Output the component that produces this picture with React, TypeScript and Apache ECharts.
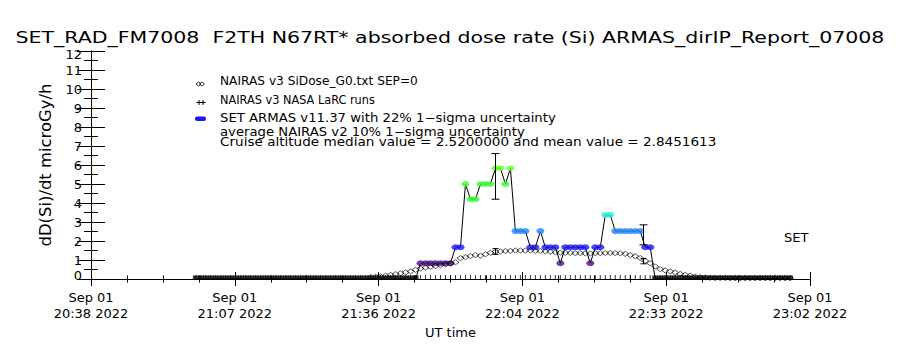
import React, { useEffect, useRef } from "react";
import * as echarts from "echarts";

// ---- tick labels ----
const xTickDate = "Sep 01";
const xTickLabels = ["20:38 2022", "21:07 2022", "21:36 2022", "22:04 2022", "22:33 2022", "23:02 2022"];
const xStepMin = 28.8; // minutes between labelled ticks (x axis = minutes after 20:38 UT)
const xMaxMin = 144;
const yMin = 0;
const yMax = 12;

const titleText = "SET_RAD_FM7008  F2TH N67RT* absorbed dose rate (Si) ARMAS_dirIP_Report_07008";
const yAxisTitle = "dD(Si)/dt microGy/h";
const xAxisTitle = "UT time";
const legendTexts = [
  "NAIRAS v3 SiDose_G0.txt SEP=0",
  "NAIRAS v3 NASA LaRC runs",
  "SET ARMAS v11.37 with 22% 1\u2212sigma uncertainty",
  "average NAIRAS v2 10% 1\u2212sigma uncertainty",
  "Cruise altitude median value = 2.5200000 and mean value = 2.8451613",
];

// ---- ARMAS measurements (minutes after 20:38, microGy/h) ----
const armasTimes = [
  21, 22, 23, 24, 25, 26, 27, 28, 29, 30, 31, 32, 33, 34, 35, 36, 37, 38, 39, 40,
  41, 42, 43, 44, 45, 46, 47, 48, 49, 50, 51, 52, 53, 54, 55, 56, 57, 58, 59, 60,
  61, 62, 63, 64, 65, 66, 67, 68, 69, 70, 71, 72, 73, 74, 75, 76, 77, 78, 79, 80,
  81, 82, 83, 84, 85, 86, 87, 88, 89, 90, 91, 92, 93, 94, 95, 96, 97, 98, 99, 100,
  101, 102, 103, 104, 105, 106, 107, 108, 109, 110, 111, 112, 113, 114, 115, 116, 117, 118, 119, 120,
  121, 122, 123, 124, 125, 126, 127, 128, 129, 130, 131, 132, 133, 134, 135, 136, 137, 138, 139, 140,
];
const armasValues = [
  0, 0, 0, 0, 0, 0, 0, 0, 0, 0, 0, 0, 0, 0, 0, 0, 0, 0, 0, 0,
  0, 0, 0, 0, 0, 0, 0, 0, 0, 0, 0, 0, 0, 0, 0, 0, 0, 0, 0, 0,
  0, 0, 0, 0, 0, 0.83, 0.83, 0.83, 0.83, 0.83, 0.83, 0.83, 1.67, 1.67, 5.0, 4.2, 4.2, 5.0, 5.0, 5.0,
  5.83, 5.83, 5.0, 5.83, 2.52, 2.52, 2.52, 1.67, 1.67, 2.52, 1.67, 1.67, 1.67, 0.83, 1.67, 1.67, 1.67, 1.67, 1.67, 0.83,
  1.67, 1.67, 3.37, 3.37, 2.52, 2.52, 2.52, 2.52, 2.52, 2.52, 1.67, 1.67, 0, 0, 0, 0, 0, 0, 0, 0,
  0, 0, 0, 0, 0, 0, 0, 0, 0, 0, 0, 0, 0, 0, 0, 0, 0, 0, 0, 0,
];

// ---- NAIRAS v3 NASA LaRC runs (at ARMAS times, plotted at 0) ----
const larcValues = [
  0, 0, 0, 0, 0, 0, 0, 0, 0, 0, 0, 0, 0, 0, 0, 0, 0, 0, 0, 0,
  0, 0, 0, 0, 0, 0, 0, 0, 0, 0, 0, 0, 0, 0, 0, 0, 0, 0, 0, 0,
  0, 0, 0, 0, 0, 0, 0, 0, 0, 0, 0, 0, 0, 0, 0, 0, 0, 0, 0, 0,
  0, 0, 0, 0, 0, 0, 0, 0, 0, 0, 0, 0, 0, 0, 0, 0, 0, 0, 0, 0,
  0, 0, 0, 0, 0, 0, 0, 0, 0, 0, 0, 0, 0, 0, 0, 0, 0, 0, 0, 0,
  0, 0, 0, 0, 0, 0, 0, 0, 0, 0, 0, 0, 0, 0, 0, 0, 0, 0, 0, 0,
];

// ---- NAIRAS v3 SiDose model ----
const nairasTimes = [
  56, 57, 58, 59, 60, 61, 62, 63, 64, 65, 66, 67, 68, 69, 70, 71, 72, 73, 74, 75,
  76, 77, 78, 79, 80, 81, 82, 83, 84, 85, 86, 87, 88, 89, 90, 91, 92, 93, 94, 95,
  96, 97, 98, 99, 100, 101, 102, 103, 104, 105, 106, 107, 108, 109, 110, 111, 112, 113, 114, 115,
  116, 117, 118, 119, 120, 121, 122, 123, 124, 125, 126, 127, 128, 129, 130, 131, 132, 133, 134, 135,
  136, 137, 138, 139, 140,
];
const nairasValues = [
  0.1, 0.12, 0.14, 0.18, 0.22, 0.26, 0.3, 0.35, 0.4, 0.48, 0.55, 0.6, 0.64, 0.68, 0.72, 0.77, 0.82, 0.88, 1.1, 1.15,
  1.2, 1.26, 1.22, 1.3, 1.38, 1.44, 1.45, 1.47, 1.48, 1.5, 1.5, 1.5, 1.5, 1.48, 1.47, 1.45, 1.43, 1.41, 1.39, 1.38,
  1.37, 1.36, 1.36, 1.35, 1.35, 1.36, 1.36, 1.37, 1.37, 1.36, 1.35, 1.32, 1.26, 1.2, 1.1, 0.95, 0.83, 0.66, 0.52, 0.45,
  0.4, 0.34, 0.27, 0.22, 0.18, 0.13, 0.1, 0.08, 0.06, 0.05, 0.05, 0.05, 0.04, 0.04, 0.04, 0.04, 0.04, 0.04, 0.04, 0.04,
  0.04, 0.04, 0.04, 0.04, 0.04,
];

// ---- error bars ----
const armasErrTimes = [81, 110.5];
const armasErrLow = [4.2, 1.8];
const armasErrHigh = [6.6, 2.85];
const nairasErrTimes = [81, 110.5];
const nairasErrLow = [1.3, 0.8];
const nairasErrHigh = [1.6, 1.08];

const FONT = "DejaVu Sans";

function measure(text: string, size: number): number {
  const c = document.createElement("canvas").getContext("2d");
  if (!c) return text.length * size * 0.6;
  c.font = `${size}px "${FONT}"`;
  return c.measureText(text).width;
}

function armasColor(v: number): string {
  if (v < 0.1) return "#000000";
  if (v < 1.2) return "#4b0f85";
  if (v < 2.0) return "#1818f0";
  if (v < 3.0) return "#1e88f4";
  if (v < 4.0) return "#28ecd8";
  if (v < 5.5) return "#3cf83c";
  return "#66ff33";
}

function errSeries(times: number[], lows: number[], highs: number[], cap: number) {
  return {
    type: "custom",
    silent: true,
    z: 6,
    clip: false,
    data: times.map((t, i) => [t, lows[i], highs[i]]),
    encode: { x: 0, y: [1, 2] },
    renderItem: (_p: any, api: any) => {
      const lo = api.coord([api.value(0), api.value(1)]);
      const hi = api.coord([api.value(0), api.value(2)]);
      const x = Math.round(lo[0]) + 0.5;
      const st = { stroke: "#000", lineWidth: 1 };
      return {
        type: "group",
        children: [
          { type: "line", shape: { x1: x, y1: lo[1], x2: x, y2: hi[1] }, style: st },
          { type: "line", shape: { x1: x - cap, y1: lo[1], x2: x + cap, y2: lo[1] }, style: st },
          { type: "line", shape: { x1: x - cap, y1: hi[1], x2: x + cap, y2: hi[1] }, style: st },
        ],
      };
    },
  };
}

export default function App() {
  const ref = useRef<HTMLDivElement>(null);
  useEffect(() => {
    if (!ref.current) return;
    const chart = echarts.init(ref.current, undefined, { renderer: "svg" });

    const xFmt = (v: number) => {
      const i = Math.round(v / xStepMin);
      return xTickLabels[i] !== undefined ? xTickDate + "\n" + xTickLabels[i] : "";
    };
    // end labels (min / max) are drawn nudged inward, as in the original plot
    const yFmt = (v: number) => (v === yMax || v === yMin ? "" : String(v));

    const axisLine = { show: true, lineStyle: { color: "#000", width: 1 } };

    // text fitting to reference widths
    const titleSize = 16;
    const titleScale = 870 / measure(titleText, titleSize);
    const legendSize = 12;
    const legendWidths = [198, 155, 336, 305, 497];
    const legendX = 220;
    const legendYs = [81, 99.5, 118, 131.5, 141.5];
    const yNameSize = Math.min(17, 14 * 163 / measure(yAxisTitle, 14));
    const yLabelSize = 13;
    const yLabelMargin = 9;

    const option: any = {
      animation: false,
      backgroundColor: "#ffffff",
      textStyle: { fontFamily: FONT },
      grid: { left: 91, right: 90, top: 51, bottom: 71, outerBoundsMode: "none", containLabel: false },
      xAxis: [
        {
          type: "value",
          position: "bottom",
          min: 0,
          max: xMaxMin,
          interval: xStepMin,
          axisLine,
          axisTick: { show: true, inside: true, length: 7, lineStyle: { color: "#000" } },
          minorTick: { show: true, splitNumber: 4, length: 3.5, lineStyle: { color: "#000" } },
          splitLine: { show: false },
          axisLabel: {
            formatter: xFmt,
            color: "#000",
            fontFamily: FONT,
            fontSize: 13,
            lineHeight: 16,
            margin: 10,
            showMinLabel: true,
            showMaxLabel: true,
            hideOverlap: false,
          },
          name: xAxisTitle,
          nameLocation: "middle",
          nameGap: 47,
          nameTextStyle: { color: "#000", fontFamily: FONT, fontSize: 13 },
        },
        {
          type: "value",
          position: "top",
          min: 0,
          max: xMaxMin,
          interval: xStepMin,
          axisLine,
          axisTick: { show: true, inside: true, length: 7, lineStyle: { color: "#000" } },
          minorTick: { show: true, splitNumber: 4, length: 3.5, lineStyle: { color: "#000" } },
          splitLine: { show: false },
          axisLabel: { show: false },
        },
      ],
      yAxis: [
        {
          type: "value",
          position: "left",
          min: yMin,
          max: yMax,
          interval: 1,
          axisLine,
          axisTick: { show: true, inside: true, length: 14, lineStyle: { color: "#000" } },
          minorTick: { show: true, splitNumber: 2, length: 7, lineStyle: { color: "#000" } },
          splitLine: { show: false },
          axisLabel: {
            formatter: yFmt,
            color: "#000",
            fontFamily: FONT,
            fontSize: yLabelSize,
            margin: yLabelMargin,
            showMinLabel: true,
            showMaxLabel: true,
            hideOverlap: false,
          },
          name: yAxisTitle,
          nameLocation: "middle",
          nameGap: 38,
          nameRotate: 90,
          nameTextStyle: { color: "#000", fontFamily: FONT, fontSize: yNameSize },
        },
        {
          type: "value",
          position: "right",
          min: yMin,
          max: yMax,
          interval: 1,
          axisLine,
          axisTick: { show: true, inside: true, length: 14, lineStyle: { color: "#000" } },
          minorTick: { show: true, splitNumber: 2, length: 7, lineStyle: { color: "#000" } },
          splitLine: { show: false },
          axisLabel: { show: false },
        },
      ],
      series: [
        {
          name: "NAIRAS v3 NASA LaRC runs",
          type: "scatter",
          z: 2,
          symbol: "rect",
          symbolSize: [1, 4],
          symbolOffset: [0, -2],
          itemStyle: { color: "#000" },
          data: armasTimes.map((t, i) => [t, larcValues[i]]),
        },
        {
          name: "ARMAS line",
          type: "line",
          z: 3,
          showSymbol: false,
          symbol: "none",
          lineStyle: { color: "#000", width: 1 },
          data: armasTimes.map((t, i) => [t, armasValues[i]]),
        },
        {
          name: "SET ARMAS",
          type: "scatter",
          z: 4,
          symbol: "circle",
          data: armasTimes.map((t, i) => {
            const v = armasValues[i];
            return {
              value: [t, v],
              symbol: v === 0 ? "rect" : "circle",
              symbolSize: v === 0 ? [6, 3.5] : [8, 6],
              symbolOffset: v === 0 ? [0, -1.75] : [0, 0],
              itemStyle: { color: armasColor(v) },
            };
          }),
        },
        {
          name: "NAIRAS v3 SiDose",
          type: "scatter",
          z: 5,
          symbol: "diamond",
          symbolSize: [7, 5],
          itemStyle: { color: "rgba(255,255,255,0)", borderColor: "#000", borderWidth: 0.8 },
          data: nairasTimes.map((t, i) => [t, nairasValues[i]]),
        },
        errSeries(armasErrTimes, armasErrLow, armasErrHigh, 4),
        errSeries(nairasErrTimes, nairasErrLow, nairasErrHigh, 3),
      ],
      graphic: [
        {
          type: "text",
          x: 450,
          y: 37,
          scaleX: titleScale,
          style: {
            text: titleText,
            fontFamily: FONT,
            fontSize: titleSize,
            fill: "#000",
            align: "center",
            verticalAlign: "middle",
          },
        },
        ...legendTexts.map((t, i) => ({
          type: "text",
          x: legendX,
          y: legendYs[i],
          scaleX: legendWidths[i] / measure(t, legendSize),
          style: { text: t, fontFamily: FONT, fontSize: legendSize, fill: "#000", align: "left", verticalAlign: "middle" },
        })),
        // legend symbols
        { type: "polygon", shape: { points: [[196, 84], [198.5, 82], [201, 84], [198.5, 86]] }, style: { fill: "none", stroke: "#000", lineWidth: 0.8 } },
        { type: "polygon", shape: { points: [[199.5, 84], [202, 82], [204.5, 84], [202, 86]] }, style: { fill: "none", stroke: "#000", lineWidth: 0.8 } },
        { type: "line", shape: { x1: 196.5, y1: 102.5, x2: 201.5, y2: 102.5 }, style: { stroke: "#000", lineWidth: 1 } },
        { type: "line", shape: { x1: 200.5, y1: 102.5, x2: 205.5, y2: 102.5 }, style: { stroke: "#000", lineWidth: 1 } },
        { type: "line", shape: { x1: 199, y1: 100, x2: 199, y2: 105 }, style: { stroke: "#000", lineWidth: 1 } },
        { type: "line", shape: { x1: 203, y1: 100, x2: 203, y2: 105 }, style: { stroke: "#000", lineWidth: 1 } },
        { type: "rect", shape: { x: 195, y: 116.5, width: 11, height: 4.5, r: 2 }, style: { fill: "#1818f0" } },
        {
          type: "text",
          x: 784,
          y: 237,
          style: { text: "SET", fontFamily: FONT, fontSize: 13, fill: "#000", align: "left", verticalAlign: "middle" },
        },
      ],
    };
    chart.setOption(option);

    // min / max y labels, positioned through the axis scale and nudged inward
    const topPx = chart.convertToPixel({ yAxisIndex: 0 }, yMax) as number;
    const botPx = chart.convertToPixel({ yAxisIndex: 0 }, yMin) as number;
    const leftPx = chart.convertToPixel({ xAxisIndex: 0 }, 0) as number;
    const endLabel = (v: number, y: number) => ({
      type: "text",
      x: leftPx - yLabelMargin,
      y,
      style: { text: String(v), fontFamily: FONT, fontSize: yLabelSize, fill: "#000", align: "right", verticalAlign: "middle" },
    });
    chart.setOption({
      graphic: [...option.graphic, endLabel(yMax, topPx + 3), endLabel(yMin, botPx - 4)],
    });

    return () => chart.dispose();
  }, []);
  return (
    <div
      ref={ref}
      style={{ position: "absolute", left: 0, top: 0, width: 900, height: 350, background: "#fff" }}
    />
  );
}
